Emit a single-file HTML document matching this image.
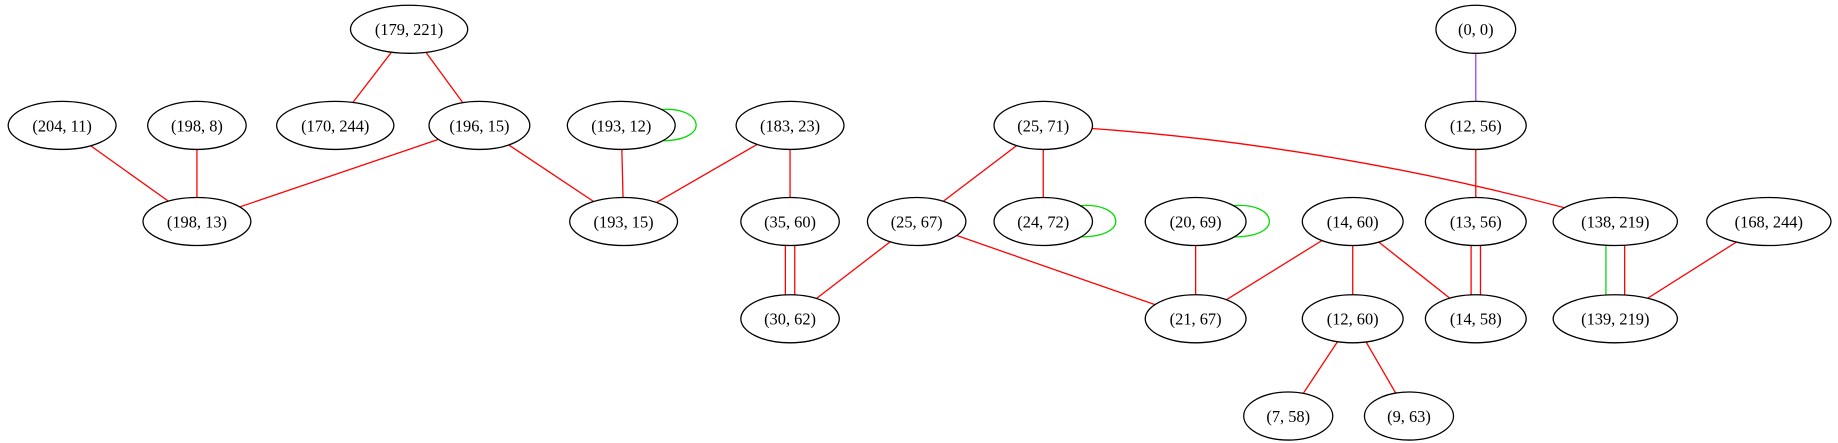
<!DOCTYPE html>
<html><head><meta charset="utf-8"><style>html,body{margin:0;padding:0;background:#fff}svg{display:block}</style></head>
<body>
<svg width="1838" height="443" viewBox="0 0 1568 378" preserveAspectRatio="none" xmlns="http://www.w3.org/2000/svg" font-family="'Liberation Serif',serif" font-size="14">
<g stroke="red" stroke-width="1.1" fill="none">
<line x1="349" y1="25" x2="286" y2="107"/>
<line x1="349" y1="25" x2="409" y2="107"/>
<line x1="53" y1="107" x2="168" y2="189"/>
<line x1="168" y1="107" x2="168" y2="189"/>
<line x1="409" y1="107" x2="168" y2="189"/>
<line x1="409" y1="107" x2="532" y2="189"/>
<line x1="530" y1="107" x2="532" y2="189"/>
<line x1="674" y1="107" x2="532" y2="189"/>
<line x1="674" y1="107" x2="674" y2="189"/>
<line x1="670" y1="189" x2="670" y2="272"/>
<line x1="678" y1="189" x2="678" y2="272"/>
<line x1="890" y1="107" x2="782" y2="189"/>
<line x1="890" y1="107" x2="890" y2="189"/>
<path d="M890,107 Q1134,120 1378,189"/>
<line x1="782" y1="189" x2="674" y2="272"/>
<line x1="782" y1="189" x2="1020" y2="272"/>
<line x1="1020" y1="189" x2="1020" y2="272"/>
<line x1="1154" y1="189" x2="1020" y2="272"/>
<line x1="1154" y1="189" x2="1154" y2="272"/>
<line x1="1154" y1="189" x2="1259" y2="272"/>
<line x1="1259" y1="107" x2="1259" y2="189"/>
<line x1="1255" y1="189" x2="1255" y2="272"/>
<line x1="1263" y1="189" x2="1263" y2="272"/>
<line x1="1386" y1="189" x2="1386" y2="272"/>
<line x1="1509" y1="189" x2="1378" y2="272"/>
<line x1="1154" y1="272" x2="1099" y2="355"/>
<line x1="1154" y1="272" x2="1202" y2="355"/>
</g>
<line x1="1370" y1="189" x2="1370" y2="272" stroke="#0d0" stroke-width="1.1"/>
<line x1="1259" y1="25" x2="1259" y2="107" stroke="#a040e0" stroke-width="1.1"/>
<g stroke="#0d0" stroke-width="1.1" fill="none">
<path d="M560,94 C600,88 610,122 560,120"/>
<path d="M918,176 C958,170 968,204 918,202"/>
<path d="M1049,176 C1089,170 1099,204 1049,202"/>
</g>
<g stroke="#000" stroke-width="1.1" fill="#fff">
<ellipse cx="349" cy="25" rx="50" ry="20.5"/>
<ellipse cx="1259" cy="25" rx="34" ry="20.5"/>
<ellipse cx="53" cy="107" rx="46" ry="20.5"/>
<ellipse cx="168" cy="107" rx="42" ry="20.5"/>
<ellipse cx="286" cy="107" rx="50" ry="20.5"/>
<ellipse cx="409" cy="107" rx="43" ry="20.5"/>
<ellipse cx="530" cy="107" rx="46" ry="20.5"/>
<ellipse cx="674" cy="107" rx="46" ry="20.5"/>
<ellipse cx="890" cy="107" rx="42" ry="20.5"/>
<ellipse cx="1259" cy="107" rx="43" ry="20.5"/>
<ellipse cx="168" cy="189" rx="46" ry="20.5"/>
<ellipse cx="532" cy="189" rx="46" ry="20.5"/>
<ellipse cx="674" cy="189" rx="42" ry="20.5"/>
<ellipse cx="782" cy="189" rx="42" ry="20.5"/>
<ellipse cx="890" cy="189" rx="42" ry="20.5"/>
<ellipse cx="1020" cy="189" rx="43" ry="20.5"/>
<ellipse cx="1154" cy="189" rx="43" ry="20.5"/>
<ellipse cx="1259" cy="189" rx="43" ry="20.5"/>
<ellipse cx="1378" cy="189" rx="53" ry="20.5"/>
<ellipse cx="1509" cy="189" rx="53" ry="20.5"/>
<ellipse cx="674" cy="272" rx="42" ry="20.5"/>
<ellipse cx="1020" cy="272" rx="43" ry="20.5"/>
<ellipse cx="1154" cy="272" rx="43" ry="20.5"/>
<ellipse cx="1259" cy="272" rx="43" ry="20.5"/>
<ellipse cx="1378" cy="272" rx="53" ry="20.5"/>
<ellipse cx="1099" cy="355" rx="38" ry="20.5"/>
<ellipse cx="1202" cy="355" rx="38" ry="20.5"/>
</g>
<g text-anchor="middle" fill="#000">
<text x="349" y="30">(179, 221)</text>
<text x="1259" y="30">(0, 0)</text>
<text x="53" y="112">(204, 11)</text>
<text x="168" y="112">(198, 8)</text>
<text x="286" y="112">(170, 244)</text>
<text x="409" y="112">(196, 15)</text>
<text x="530" y="112">(193, 12)</text>
<text x="674" y="112">(183, 23)</text>
<text x="890" y="112">(25, 71)</text>
<text x="1259" y="112">(12, 56)</text>
<text x="168" y="194">(198, 13)</text>
<text x="532" y="194">(193, 15)</text>
<text x="674" y="194">(35, 60)</text>
<text x="782" y="194">(25, 67)</text>
<text x="890" y="194">(24, 72)</text>
<text x="1020" y="194">(20, 69)</text>
<text x="1154" y="194">(14, 60)</text>
<text x="1259" y="194">(13, 56)</text>
<text x="1378" y="194">(138, 219)</text>
<text x="1509" y="194">(168, 244)</text>
<text x="674" y="277">(30, 62)</text>
<text x="1020" y="277">(21, 67)</text>
<text x="1154" y="277">(12, 60)</text>
<text x="1259" y="277">(14, 58)</text>
<text x="1378" y="277">(139, 219)</text>
<text x="1099" y="360">(7, 58)</text>
<text x="1202" y="360">(9, 63)</text>
</g>
</svg>
</body></html>
